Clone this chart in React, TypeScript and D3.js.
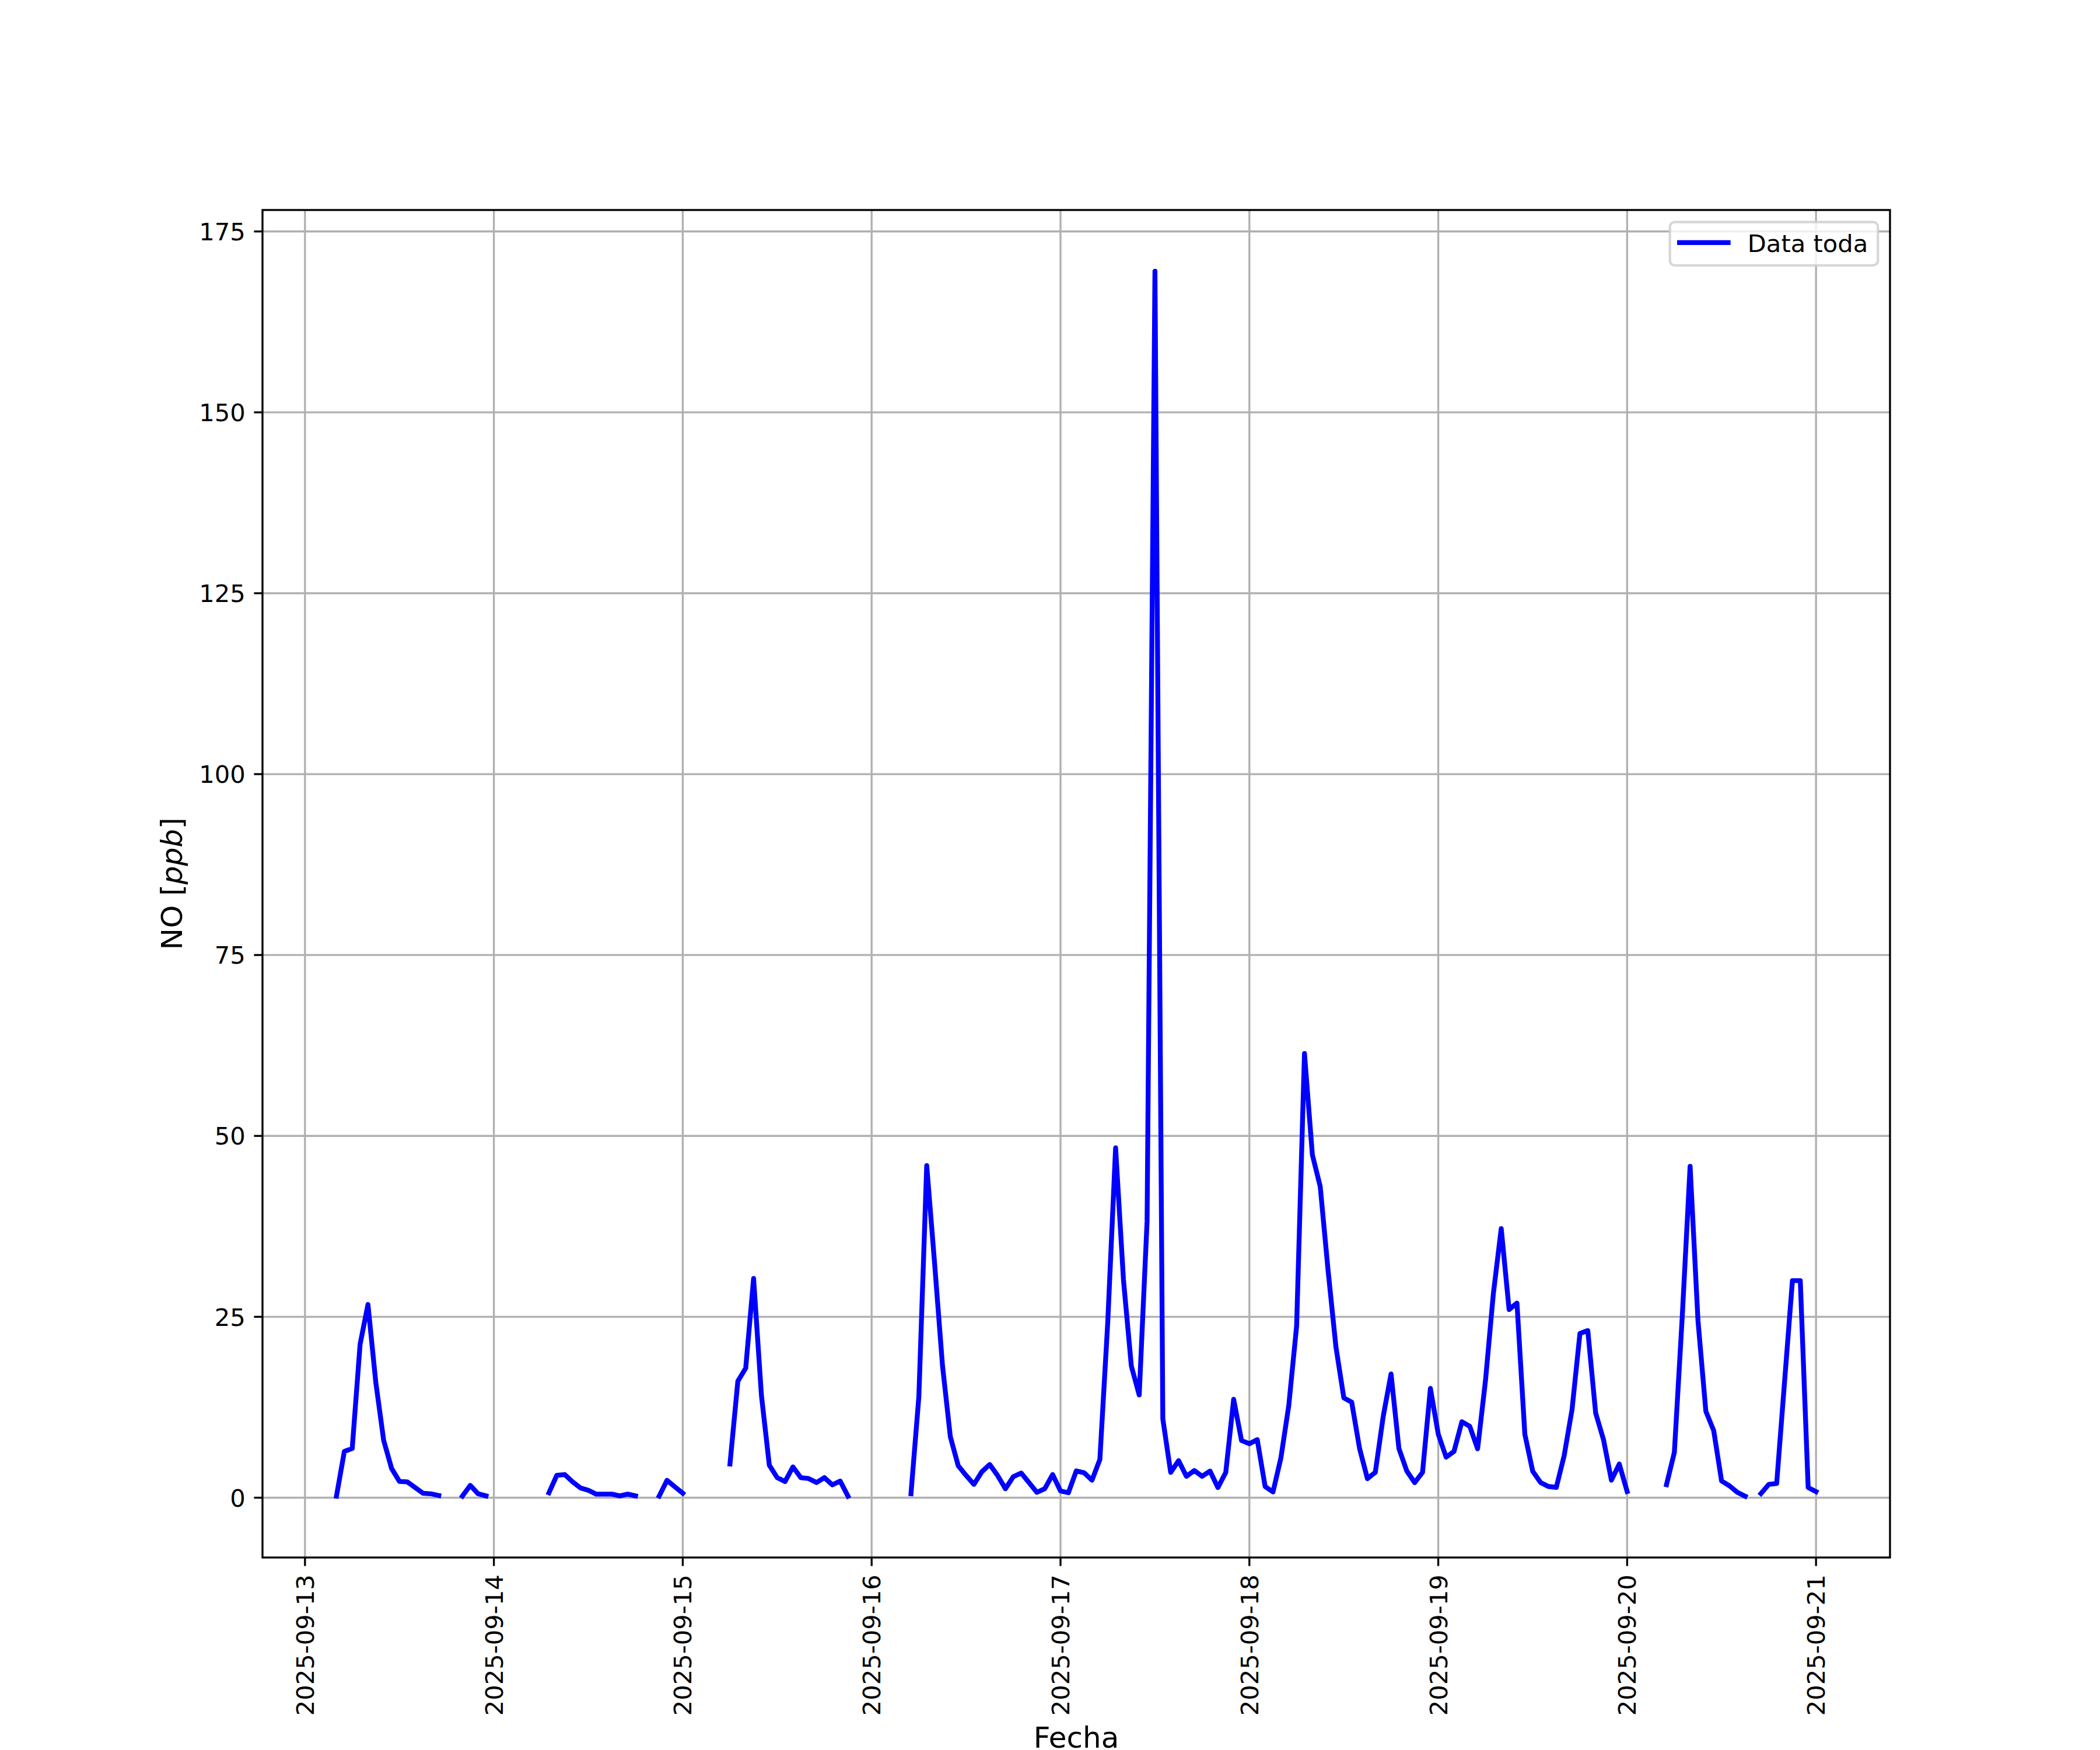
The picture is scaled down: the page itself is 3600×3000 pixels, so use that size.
import React from "react";
import * as d3 from "d3";

// Hourly NO values (ppb), one array per day (index = hour of day), null = missing
const day13: (number | null)[] = [null, null, null, null, 0.22, 6.4, 6.8, 21.2, 26.7, 15.9, 7.9, 4.05, 2.24, 2.19, 1.4, 0.62, 0.54, 0.3, null, null, 0.22, 1.7, 0.54, 0.25];
const day14: (number | null)[] = [null, null, null, null, null, null, null, 0.68, 3.1, 3.2, 2.2, 1.35, 1.03, 0.49, 0.49, 0.49, 0.25, 0.49, 0.25, null, null, 0.22, 2.4, 1.5];
const day15: (number | null)[] = [0.62, null, null, null, null, null, 4.66, 16.1, 17.9, 30.3, 14.1, 4.5, 2.77, 2.24, 4.26, 2.77, 2.64, 2.1, 2.77, 1.78, 2.3, 0.2, null, null];
const day16: (number | null)[] = [null, null, null, null, null, 0.55, 13.96, 45.9, 32.4, 18.3, 8.43, 4.42, 3.08, 1.84, 3.58, 4.59, 3.08, 1.24, 2.9, 3.41, 2.08, 0.74, 1.24, 3.2];
const day17: (number | null)[] = [0.93, 0.68, 3.7, 3.45, 2.42, 5.28, 24.2, 48.35, 30.1, 18.2, 14.2, 38.2, 169.5, 10.9, 3.5, 5.12, 2.96, 3.75, 2.96, 3.68, 1.4, 3.5, 13.6, 7.9];
const day18: (number | null)[] = [7.46, 8.03, 1.54, 0.79, 5.48, 12.7, 23.7, 61.4, 47.4, 43.0, 31.4, 20.8, 13.8, 13.2, 6.8, 2.63, 3.5, 11.2, 17.1, 6.8, 3.7, 2.08, 3.5, 15.1];
const day19: (number | null)[] = [8.78, 5.6, 6.4, 10.5, 9.86, 6.76, 16.2, 28.2, 37.2, 26.0, 26.9, 8.78, 3.66, 2.1, 1.55, 1.43, 5.83, 12.2, 22.7, 23.1, 11.7, 8.0, 2.42, 4.65];
const day20: (number | null)[] = [0.85, null, null, null, null, 1.8, 6.26, 25.0, 45.8, 24.5, 11.95, 9.27, 2.31, 1.64, 0.74, 0.2, null, 0.57, 1.84, 1.97, 16.0, 30.0, 30.0, 1.4];
const day21: (number | null)[] = [0.84];

const days = [day13, day14, day15, day16, day17, day18, day19, day20, day21];
const firstDay = { year: 2025, month: 8, day: 13 }; // month index 8 = September

const xTickLabels = ["2025-09-13", "2025-09-14", "2025-09-15", "2025-09-16", "2025-09-17", "2025-09-18", "2025-09-19", "2025-09-20", "2025-09-21"];
const yTickValues = [0, 25, 50, 75, 100, 125, 150, 175];

const seriesLabel = "Data toda";
const xLabel = "Fecha";

type Pt = { t: Date; v: number | null };

const points: Pt[] = [];
days.forEach((arr, di) => {
  arr.forEach((v, h) => {
    points.push({ t: new Date(Date.UTC(firstDay.year, firstDay.month, firstDay.day + di, h)), v });
  });
});
const defined = points.filter((p) => p.v !== null);

const W = 3600;
const H = 3000;
const M = { left: 450, right: 3240, top: 360, bottom: 2670 };
const FONT = "'DejaVu Sans', sans-serif";
const fsTick = 41.67;
const fsLabel = 50;
const lw = 8.33;
const thin = 3.33;
const tickLen = 14.58;
const pad = 14.58;

export default function App() {
  const tExt = d3.extent(defined, (d) => d.t.getTime()) as [number, number];
  const tSpan = tExt[1] - tExt[0];
  const x = d3
    .scaleUtc()
    .domain([new Date(tExt[0] - 0.05 * tSpan), new Date(tExt[1] + 0.05 * tSpan)])
    .range([M.left, M.right]);

  const vExt = d3.extent(defined, (d) => d.v as number) as [number, number];
  const vSpan = vExt[1] - vExt[0];
  const y = d3
    .scaleLinear()
    .domain([vExt[0] - 0.05 * vSpan, vExt[1] + 0.05 * vSpan])
    .range([M.bottom, M.top]);

  const line = d3
    .line<Pt>()
    .defined((d) => d.v !== null)
    .x((d) => x(d.t))
    .y((d) => y(d.v as number));

  const xTicks = xTickLabels.map((s) => {
    const [yy, mm, dd] = s.split("-").map(Number);
    return { label: s, t: new Date(Date.UTC(yy, mm - 1, dd)) };
  });

  const cx = (M.left + M.right) / 2;
  const cy = (M.top + M.bottom) / 2;

  // legend geometry
  const lg = { x: 2862.7, y: 380.7, w: 356.6, h: 74.3 };
  const lgMid = lg.y + lg.h / 2;

  return (
    <svg
      width={W}
      height={H}
      viewBox={`0 0 ${W} ${H}`}
      style={{ position: "absolute", left: 0, top: 0, background: "#fff" }}
      fontFamily={FONT}
    >
      <rect x={0} y={0} width={W} height={H} fill="#fff" />
      <defs>
        <clipPath id="plotclip">
          <rect x={M.left} y={M.top} width={M.right - M.left} height={M.bottom - M.top} />
        </clipPath>
      </defs>

      {/* grid */}
      <g stroke="#b0b0b0" strokeWidth={thin}>
        {xTicks.map((d) => (
          <line key={"gx" + d.label} x1={x(d.t)} x2={x(d.t)} y1={M.top} y2={M.bottom} />
        ))}
        {yTickValues.map((v) => (
          <line key={"gy" + v} x1={M.left} x2={M.right} y1={y(v)} y2={y(v)} />
        ))}
      </g>

      {/* data line */}
      <path
        d={line(points) || ""}
        fill="none"
        stroke="#0000ff"
        strokeWidth={lw}
        strokeLinejoin="round"
        strokeLinecap="square"
        clipPath="url(#plotclip)"
      />

      {/* spines */}
      <rect
        x={M.left}
        y={M.top}
        width={M.right - M.left}
        height={M.bottom - M.top}
        fill="none"
        stroke="#000"
        strokeWidth={thin}
        strokeLinecap="square"
      />

      {/* x ticks */}
      <g>
        {xTicks.map((d) => (
          <g key={"xt" + d.label}>
            <line x1={x(d.t)} x2={x(d.t)} y1={M.bottom} y2={M.bottom + tickLen} stroke="#000" strokeWidth={thin} />
            <text
              transform={`translate(${x(d.t) + 15},${M.bottom + tickLen + pad}) rotate(-90)`}
              textAnchor="end"
              fontSize={fsTick}
              fill="#000"
            >
              {d.label}
            </text>
          </g>
        ))}
      </g>

      {/* y ticks */}
      <g>
        {yTickValues.map((v) => (
          <g key={"yt" + v}>
            <line x1={M.left - tickLen} x2={M.left} y1={y(v)} y2={y(v)} stroke="#000" strokeWidth={thin} />
            <text x={M.left - tickLen - pad} y={y(v) + 15.2} textAnchor="end" fontSize={fsTick} fill="#000">
              {v}
            </text>
          </g>
        ))}
      </g>

      {/* axis labels */}
      <text x={cx} y={2996} textAnchor="middle" fontSize={fsLabel} fill="#000">
        {xLabel}
      </text>
      <text transform={`translate(311.7,${cy}) rotate(-90)`} textAnchor="middle" fontSize={fsLabel} fill="#000">
        NO [<tspan fontStyle="italic">ppb</tspan>]
      </text>

      {/* legend */}
      <g>
        <rect
          x={lg.x}
          y={lg.y}
          width={lg.w}
          height={lg.h}
          rx={8.3}
          ry={8.3}
          fill="#fff"
          fillOpacity={0.8}
          stroke="#cccccc"
          strokeOpacity={0.8}
          strokeWidth={4.17}
        />
        <line x1={2879.2} x2={2962.5} y1={lgMid - 2} y2={lgMid - 2} stroke="#0000ff" strokeWidth={lw} strokeLinecap="square" />
        <text x={2995.8} y={lgMid + 14} fontSize={fsTick} fill="#000">
          {seriesLabel}
        </text>
      </g>
    </svg>
  );
}
